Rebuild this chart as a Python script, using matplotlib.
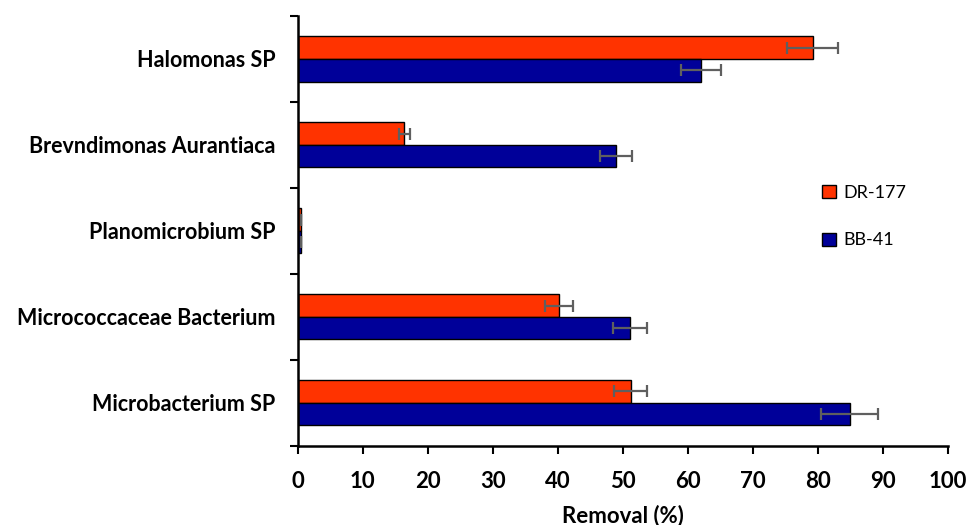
import numpy as np
import matplotlib
matplotlib.use("Agg")
from matplotlib import pyplot as plt
from matplotlib.patches import Patch

plt.rcParams['font.family'] = ['Lato', 'DejaVu Sans']

# strains, listed bottom to top
strains = ["Microbacterium SP", "Micrococcaceae Bacterium", "Planomicrobium SP",
           "Brevndimonas Aurantiaca", "Halomonas SP"]

# dye removal (%) and standard deviations
dr177 = [51.2, 40.2, 0.5, 16.4, 79.2]
dr177_err = [2.6, 2.1, 0.0, 0.85, 3.95]
bb41 = [84.9, 51.1, 0.5, 49.0, 62.0]
bb41_err = [4.4, 2.6, 0.0, 2.45, 3.1]

xticks = list(range(0, 101, 10))

red = "#FF3300"
blue = "#000099"
errcol = "#5F5F5F"

fig = plt.figure(figsize=(9.67, 5.25), dpi=100)
ax = fig.add_axes([0.3079, 0.151, 0.6722, 0.8185])

y = np.arange(len(strains))
h = 0.262
ekw = dict(ecolor=errcol, elinewidth=1.6, capsize=4.5, capthick=1.6)

ax.barh(y + h / 2, dr177, height=h, color=red, edgecolor="black", linewidth=1.0,
        xerr=dr177_err, error_kw=ekw, label="DR-177")
ax.barh(y - h / 2, bb41, height=h, color=blue, edgecolor="black", linewidth=1.0,
        xerr=bb41_err, error_kw=ekw, label="BB-41")

ax.set_xlim(0, 100)
ax.set_ylim(-0.5, len(strains) - 0.5)
ax.set_xticks(xticks)
ax.set_xticklabels([str(t) for t in xticks], fontsize=16, fontweight="bold")
ax.set_xlabel("Removal (%)", fontsize=16, fontweight="bold", labelpad=9)

# labels sit at the centre, tick marks at the boundaries
ax.set_yticks(y)
ax.set_yticklabels(strains, fontsize=15.5, fontweight="bold")
ax.set_yticks(np.arange(-0.5, len(strains)), minor=True)
ax.tick_params(axis="y", which="major", length=0, pad=16)
ax.tick_params(axis="y", which="minor", length=6, width=1.5, direction="out")
ax.tick_params(axis="x", length=6, width=1.5, direction="out", pad=12)

for s in ["top", "right"]:
    ax.spines[s].set_visible(False)
for s in ["left", "bottom"]:
    ax.spines[s].set_linewidth(1.8)

handles = [Patch(facecolor=red, edgecolor="black", label="DR-177"),
           Patch(facecolor=blue, edgecolor="black", label="BB-41")]
ax.legend(handles=handles, loc="center left", bbox_to_anchor=(0.782, 0.533),
          frameon=False, fontsize=13, handlelength=0.75, handleheight=0.75,
          handletextpad=0.4, labelspacing=1.75)

fig.savefig("out.png", dpi=100)
